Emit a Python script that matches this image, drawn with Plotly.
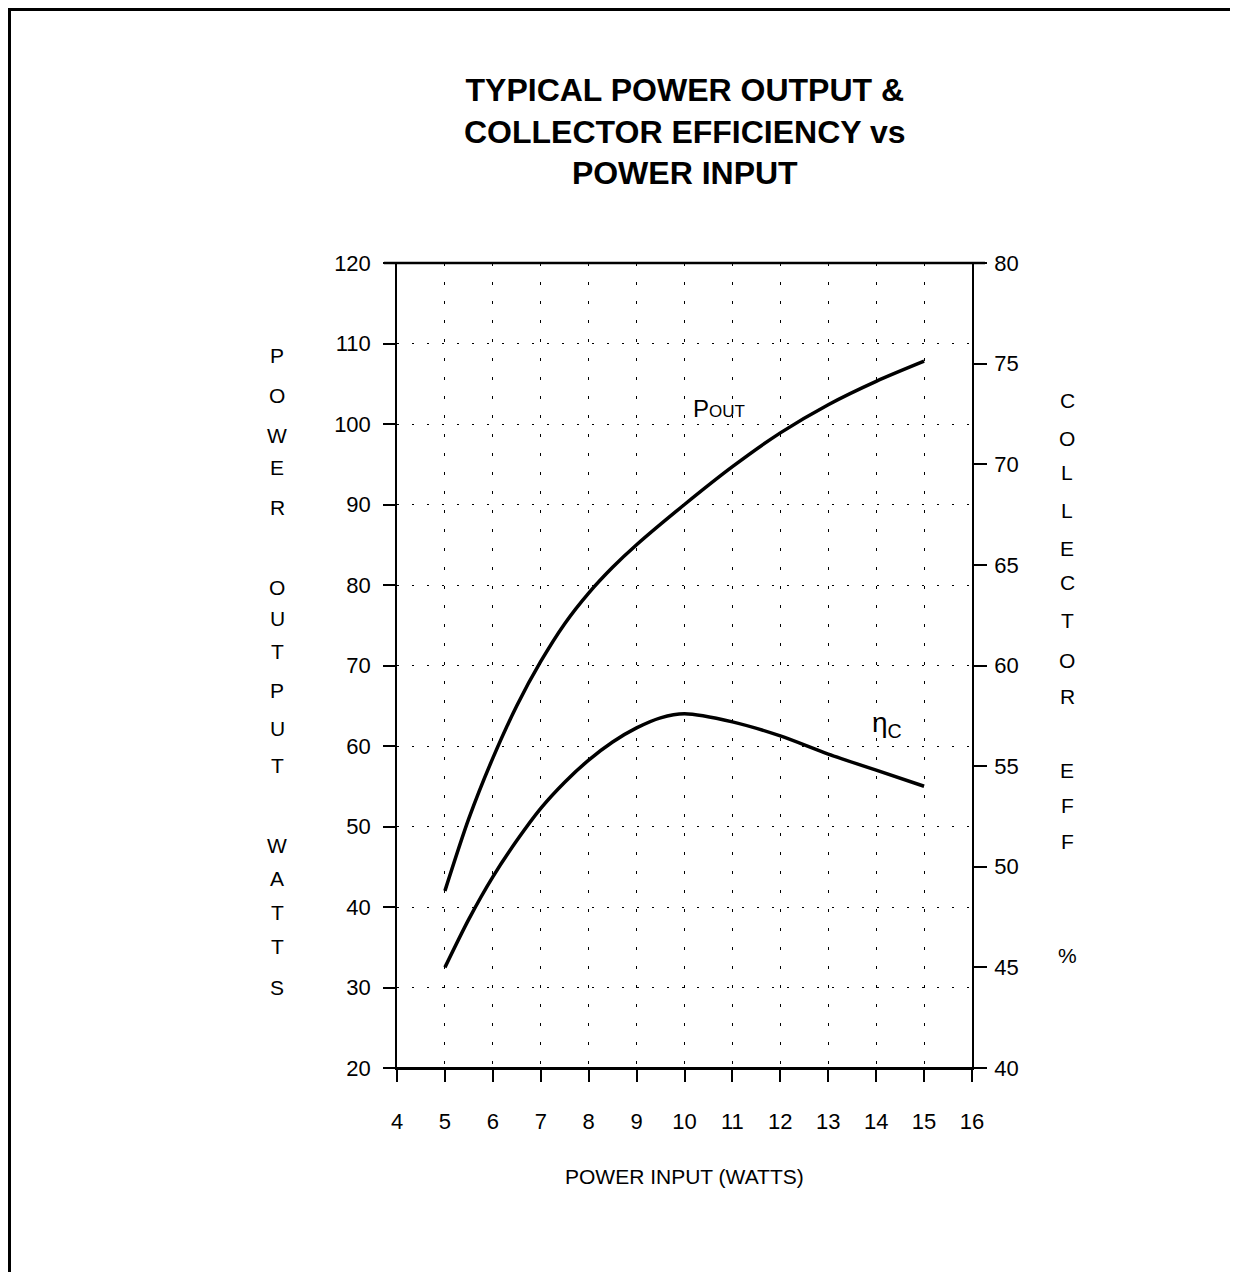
import plotly.graph_objects as go

# ---- data ----
power_input = [5, 5.5, 6, 6.5, 7, 7.5, 8, 8.5, 9, 10, 11, 12, 13, 14, 15]
power_output = [42, 51, 58.5, 65, 70.5, 75.2, 79, 82.2, 85, 90, 94.7, 98.9, 102.4, 105.3, 107.8]
eff_input = [5, 5.5, 6, 6.5, 7, 7.5, 8, 8.5, 9, 9.5, 10, 11, 12, 13, 14, 15]
collector_eff = [45.0, 47.4, 49.5, 51.3, 52.9, 54.2, 55.3, 56.2, 56.9, 57.4, 57.6, 57.2, 56.5, 55.6, 54.8, 54.0]

x_ticks = list(range(4, 17))
left_ticks = list(range(20, 121, 10))
right_ticks = list(range(40, 81, 5))

title_text = "<b>TYPICAL POWER OUTPUT &<br>COLLECTOR EFFICIENCY vs<br>POWER INPUT</b>"
left_label = ["P", "O", "W", "E", "R", "O", "U", "T", "P", "U", "T", "W", "A", "T", "T", "S"]
left_label_y = [356, 395, 435, 467, 507, 587, 618, 651, 690, 728, 765, 845, 878, 912, 946, 987]
right_label = ["C", "O", "L", "L", "E", "C", "T", "O", "R", "E", "F", "F", "%"]
right_label_y = [400, 438, 472, 510, 548, 582, 620, 660, 696, 770, 805, 841, 955]

OFF = 8  # browser body margin
W, H = 1238 - OFF, 1272 - OFF
L, R, T, B = 397, 972, 263, 1068  # plot area pixel box in reference coordinates


def px(x):
    return (x - L) / (R - L)


def py(y):
    return (B - y) / (B - T)


FONT = "Liberation Sans, Arial, Helvetica, sans-serif"

fig = go.Figure()
fig.add_trace(go.Scatter(x=power_input, y=power_output, mode="lines",
                         line=dict(color="black", width=3.5, shape="spline", smoothing=0.8),
                         showlegend=False, hoverinfo="skip"))
fig.add_trace(go.Scatter(x=eff_input, y=collector_eff, mode="lines", yaxis="y2",
                         line=dict(color="black", width=3.5, shape="spline", smoothing=0.8),
                         showlegend=False, hoverinfo="skip"))

annotations = []
annotations.append(dict(x=0.5, y=py(131), xref="paper", yref="paper", text=title_text,
                        showarrow=False, font=dict(family=FONT, size=32, color="black"),
                        xanchor="center", yanchor="middle"))
for ch, yy in zip(left_label, left_label_y):
    annotations.append(dict(x=px(277), y=py(yy), xref="paper", yref="paper", text=ch,
                            showarrow=False, font=dict(family=FONT, size=21, color="black"),
                            xanchor="center", yanchor="middle"))
for ch, yy in zip(right_label, right_label_y):
    annotations.append(dict(x=px(1067), y=py(yy), xref="paper", yref="paper", text=ch,
                            showarrow=False, font=dict(family=FONT, size=21, color="black"),
                            xanchor="center", yanchor="middle"))
annotations.append(dict(x=px(719), y=py(408), xref="paper", yref="paper",
                        text="P<span style='font-size:17px'>OUT</span>",
                        showarrow=False, font=dict(family=FONT, size=24, color="black"),
                        xanchor="center", yanchor="middle"))
annotations.append(dict(x=px(887), y=py(724), xref="paper", yref="paper",
                        text="η<sub>C</sub>",
                        showarrow=False, font=dict(family=FONT, size=28, color="black"),
                        xanchor="center", yanchor="middle"))
annotations.append(dict(x=0.5, y=py(1176), xref="paper", yref="paper", text="POWER INPUT (WATTS)",
                        showarrow=False, font=dict(family=FONT, size=21, color="black"),
                        xanchor="center", yanchor="middle"))

shapes = [
    # outer scan frame (left + top)
    dict(type="line", xref="paper", yref="paper", x0=px(9.5), x1=px(9.5), y0=py(8), y1=py(1272),
         line=dict(color="black", width=3)),
    dict(type="line", xref="paper", yref="paper", x0=px(8), x1=px(1240), y0=py(9.5), y1=py(9.5),
         line=dict(color="black", width=3)),
    # top and bottom frame lines, slightly overhanging
    dict(type="line", xref="paper", yref="paper", x0=px(384), x1=px(985), y0=1, y1=1,
         line=dict(color="black", width=2.5)),
    dict(type="line", xref="paper", yref="paper", x0=px(383), x1=px(983), y0=0, y1=0,
         line=dict(color="black", width=2)),
]

fig.update_layout(
    width=W, height=H,
    margin=dict(l=L - OFF, r=W - (R - OFF), t=T - OFF, b=H - (B - OFF), pad=0),
    paper_bgcolor="white", plot_bgcolor="white",
    font=dict(family=FONT, size=22, color="black"),
    annotations=annotations, shapes=shapes,
    xaxis=dict(range=[4, 16], tickvals=x_ticks, ticktext=[str(v) for v in x_ticks],
               ticks="outside", ticklen=12, tickwidth=1.5, tickcolor="black",
               ticklabelstandoff=21,
               showline=True, linecolor="black", linewidth=1.5,
               showgrid=True, gridcolor="black", gridwidth=1.2, griddash="3px,16px",
               zeroline=False, tickfont=dict(size=22), fixedrange=True),
    yaxis=dict(range=[20, 120], tickvals=left_ticks, ticks="outside", ticklen=12,
               tickwidth=1.5, tickcolor="black", ticklabelstandoff=8,
               showline=True, linecolor="black", linewidth=1.5,
               showgrid=True, gridcolor="black", gridwidth=1.2, griddash="2px,13px",
               zeroline=False, tickfont=dict(size=22), fixedrange=True),
    yaxis2=dict(range=[40, 80], tickvals=right_ticks, overlaying="y", side="right",
                ticks="outside", ticklen=13, tickwidth=1.5, tickcolor="black",
                ticklabelstandoff=3,
                showline=True, linecolor="black", linewidth=1.5,
                showgrid=False, zeroline=False, tickfont=dict(size=22), fixedrange=True),
)

fig.write_html("out.html")
